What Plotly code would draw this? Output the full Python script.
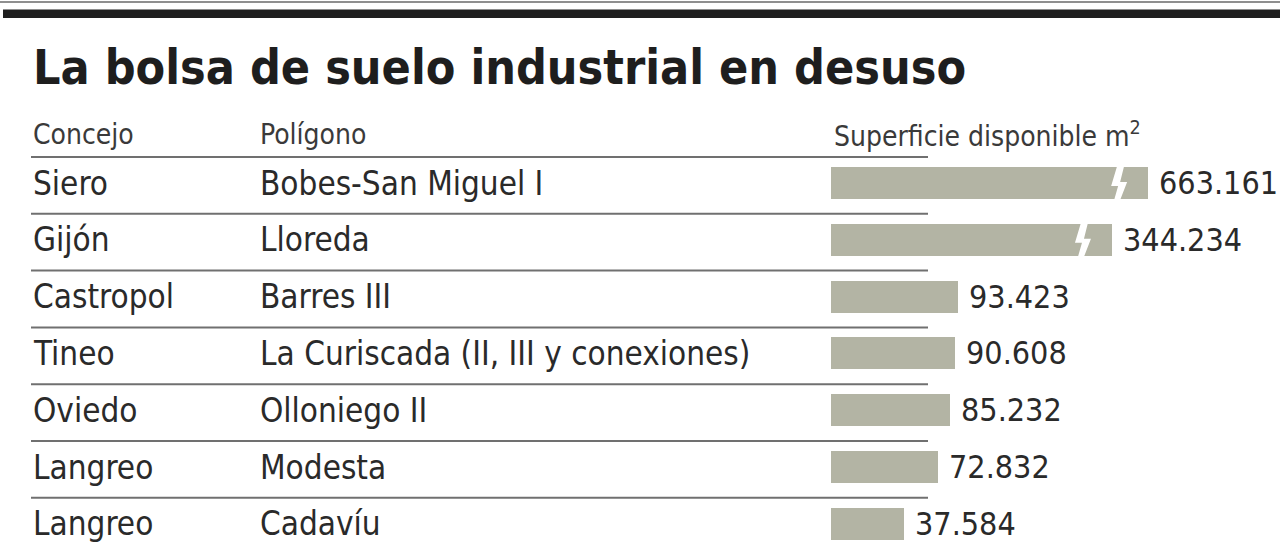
import plotly.graph_objects as go

# ---------------- data ----------------
concejos = ["Siero", "Gijón", "Castropol", "Tineo", "Oviedo", "Langreo", "Langreo"]
poligonos = ["Bobes-San Miguel I", "Lloreda", "Barres III",
             "La Curiscada (II, III y conexiones)", "Olloniego II", "Modesta", "Cadavíu"]
superficie = [663161, 344234, 93423, 90608, 85232, 72832, 37584]
value_labels = ["663.161", "344.234", "93.423", "90.608", "85.232", "72.832", "37.584"]
# bars drawn with a scale break (value shown truncated at these lengths)
break_cap = [290000, 252600, None, None, None, None, None]

title = "La bolsa de suelo industrial en desuso"
headers = ["Concejo", "Polígono", "Superficie disponible m<sup>2</sup>"]

# ---------------- layout geometry ----------------
W, H = 1280, 548
PX_PER_UNIT = 0.000967          # horizontal pixels per m2
ZERO_PX = 867.7                  # pixel position of value 0
BAR_BASE = -37950                # bars start slightly left of zero (design offset)
ROW0_PX, ROW_STEP = 183, 56.8
BAR_H_PX = 32

x0 = -ZERO_PX / PX_PER_UNIT
x1 = x0 + W / PX_PER_UNIT
y_top = -ROW0_PX / ROW_STEP
y_bot = (H - ROW0_PX) / ROW_STEP

FONT = "DejaVu Sans Condensed, Liberation Sans Narrow, Liberation Sans, Arial"
BAR_COLOR = "#b3b4a4"
TEXT_COLOR = "#2a2a2a"

rows = list(range(len(concejos)))
display = [c if c is not None else v for v, c in zip(superficie, break_cap)]

fig = go.Figure()
fig.add_trace(go.Bar(
    orientation="h",
    y=rows,
    x=[d - BAR_BASE for d in display],
    base=BAR_BASE,
    width=BAR_H_PX / ROW_STEP,
    marker=dict(color=BAR_COLOR, line=dict(width=0)),
    hoverinfo="skip",
    showlegend=False,
))

shapes = []
annotations = []

# top rules
shapes.append(dict(type="line", xref="paper", yref="paper", x0=0, x1=1,
                   y0=1 - 2 / H, y1=1 - 2 / H, line=dict(color="#8f8f8f", width=2)))
shapes.append(dict(type="rect", xref="paper", yref="paper", x0=3 / W, x1=1,
                   y0=1 - 18 / H, y1=1 - 9.5 / H, fillcolor="#1f1f1f", line=dict(width=0)))

# row separator lines
for i in rows:
    yy = i - 26 / ROW_STEP
    shapes.append(dict(type="line", xref="paper", yref="y", x0=31 / W, x1=928 / W,
                       y0=yy, y1=yy, line=dict(color="#707070", width=2)))

# break symbols on truncated bars
def dx(px):
    return px / PX_PER_UNIT

def dy(px):
    return px / ROW_STEP

for i, cap in zip(rows, break_cap):
    if cap is None:
        continue
    T = i - dy(BAR_H_PX / 2) - dy(1)
    B = i + dy(BAR_H_PX / 2) + dy(1)
    M = i
    pts = [
        (cap - dx(31), T), (cap - dx(24), T),
        (cap - dx(28), M - dy(1)), (cap - dx(21), M - dy(1)),
        (cap - dx(28), B), (cap - dx(34), B),
        (cap - dx(30), M + dy(3)), (cap - dx(37), M + dy(3)),
    ]
    path = "M " + " L ".join(f"{px},{py}" for px, py in pts) + " Z"
    shapes.append(dict(type="path", xref="x", yref="y", path=path,
                       fillcolor="white", line=dict(width=0)))

# title
annotations.append(dict(text=f"<b>{title}</b>", xref="paper", yref="paper",
                        x=31 / W, y=1 - 67 / H, xanchor="left", yanchor="middle",
                        showarrow=False, font=dict(family=FONT, size=48, color="#1e1e1e")))

# headers
for txt, xp in zip(headers, [31, 258, 832]):
    annotations.append(dict(text=txt, xref="paper", yref="paper",
                            x=xp / W, y=1 - 134 / H, xanchor="left", yanchor="middle",
                            showarrow=False, font=dict(family=FONT, size=28, color="#3a3a3a")))

# row texts and values
for i in rows:
    annotations.append(dict(text=concejos[i], xref="paper", yref="y", x=31 / W, y=i,
                            xanchor="left", yanchor="middle", showarrow=False,
                            font=dict(family=FONT, size=33, color=TEXT_COLOR)))
    annotations.append(dict(text=poligonos[i], xref="paper", yref="y", x=258 / W, y=i,
                            xanchor="left", yanchor="middle", showarrow=False,
                            font=dict(family=FONT, size=33, color=TEXT_COLOR)))
    annotations.append(dict(text=value_labels[i], xref="x", yref="y", x=display[i], y=i,
                            xanchor="left", yanchor="middle", xshift=9, showarrow=False,
                            font=dict(family=FONT, size=32, color=TEXT_COLOR)))

fig.update_layout(
    width=W, height=H,
    margin=dict(l=0, r=0, t=0, b=0),
    paper_bgcolor="white", plot_bgcolor="white",
    xaxis=dict(range=[x0, x1], visible=False, fixedrange=True),
    yaxis=dict(range=[y_bot, y_top], visible=False, fixedrange=True),
    shapes=shapes, annotations=annotations,
    bargap=0,
)

fig.write_html("out.html", config={"displayModeBar": False})
